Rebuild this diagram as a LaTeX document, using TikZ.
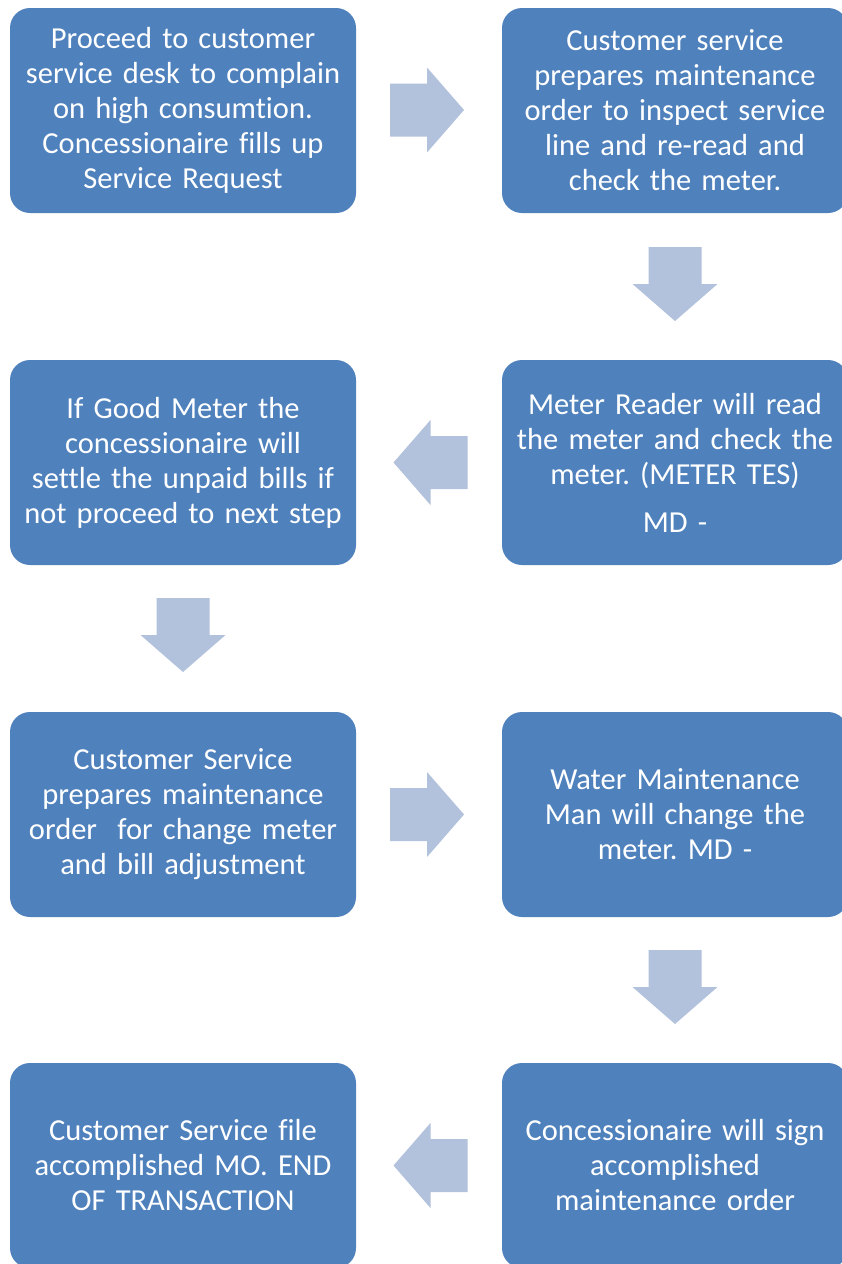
\documentclass[tikz,border=0pt]{standalone}
\usepackage{fontspec}
\setmainfont{Carlito}[Ligatures=NoCommon]
\usetikzlibrary{calc}
\definecolor{boxblue}{HTML}{4F81BD}
\definecolor{arrowblue}{RGB}{178,193,220}
\tikzset{
  x=1pt, y=-1pt,
  stepbox/.style={rectangle, rounded corners=20pt, fill=boxblue, text=white,
    minimum width=346pt, minimum height=205pt, text width=340pt, align=center,
    inner sep=0pt, font=\fontsize{30.5}{35}\selectfont\frenchspacing},
  pics/flowarrow/.style={code={
    \fill[arrowblue] (-37pt,-26.5pt) -- (0pt,-26.5pt) -- (0pt,-42.5pt) -- (37pt,0pt)
      -- (0pt,42.5pt) -- (0pt,26.5pt) -- (-37pt,26.5pt) -- cycle;}}
}
\begin{document}
\begin{tikzpicture}
\useasboundingbox (0,0) rectangle (841,1264);
\fill[white] (0,0) rectangle (841,1264);

% left column
\node[stepbox] (s1) at (183,110.5) {Proceed to customer\\ service desk to complain\\ on high consumtion.\\ Concessionaire fills up\\ Service Request};
\node[stepbox] (s4) at (183,462.5) {If Good Meter the\\ concessionaire will\\ settle the unpaid bills if\\ not proceed to next step};
\node[stepbox] (s5) at (183,814.5) {Customer Service\\ prepares maintenance\\ order\ \ for change meter\\ and bill adjustment};
\node[stepbox] (s8) at (183,1165.5) {Customer Service file\\ accomplished MO. END\\ OF TRANSACTION};

% right column
\node[stepbox] (s2) at (675,110.5) {Customer service\\ prepares maintenance\\ order to inspect service\\ line and re-read and\\ check the meter.};
\node[stepbox] (s3) at (675,462.5) {Meter Reader will read\\ the meter and check the\\ meter. (METER TES)\\[13pt] MD -};
\node[stepbox] (s6) at (675,814.5) {Water Maintenance\\ Man will change the\\ meter. MD -};
\node[stepbox] (s7) at (675,1165.5) {Concessionaire will sign\\ accomplished\\ maintenance order};

% block arrows between the steps
\pic[shift={($(s1.east)!0.5!(s2.west)+(-2,-0.5)$)}] {flowarrow};
\pic[shift={($(s2.south)!0.5!(s3.north)+(0,-2.5)$)}, rotate=-90] {flowarrow};
\pic[shift={($(s3.west)!0.5!(s4.east)+(1.5,0)$)}, rotate=180] {flowarrow};
\pic[shift={($(s4.south)!0.5!(s5.north)+(0,-3.5)$)}, rotate=-90] {flowarrow};
\pic[shift={($(s5.east)!0.5!(s6.west)+(-2,0)$)}] {flowarrow};
\pic[shift={($(s6.south)!0.5!(s7.north)+(0,-3)$)}, rotate=-90] {flowarrow};
\pic[shift={($(s7.west)!0.5!(s8.east)+(1.5,0)$)}, rotate=180] {flowarrow};
\end{tikzpicture}
\end{document}
